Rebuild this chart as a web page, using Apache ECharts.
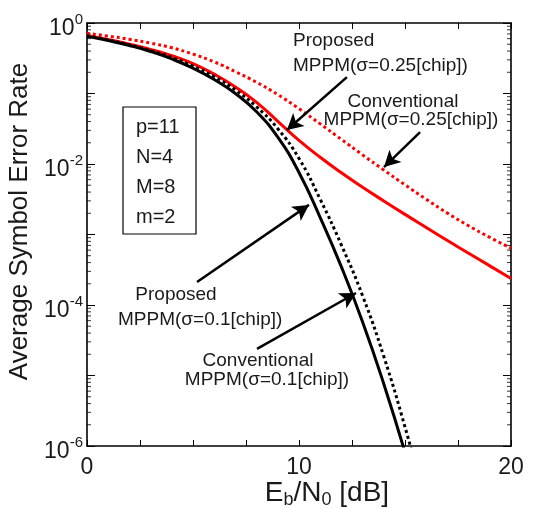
<!DOCTYPE html>
<html>
<head>
<meta charset="utf-8">
<script src="https://cdn.jsdelivr.net/npm/echarts@6/dist/echarts.min.js"></script>
<style>
html, body { margin: 0; padding: 0; background: #fff; }
#graph { width: 534px; height: 509px; }
</style>
</head>
<body>
<div id="graph"></div>
<script>
// Eb/N0 in dB
const snrDb = [0, 1, 2, 3, 4, 5, 6, 7, 8, 9, 10, 11, 12, 13, 14, 15, 16, 17, 18, 19, 20];

// sigma = 0.1 chip
const proposed01 = [0.646, 0.562, 0.479, 0.394, 0.309, 0.229, 0.158, 0.1, 0.055, 0.024, 7.59e-3, 1.74e-3, 3.47e-4, 5.75e-5, 7.59e-6, 8.1e-7];
const conventional01 = [0.661, 0.575, 0.49, 0.407, 0.324, 0.245, 0.174, 0.112, 0.0646, 0.0316, 0.012, 3.16e-3, 7.08e-4, 1.35e-4, 1.86e-5, 1.86e-6, 1.48e-7];

// sigma = 0.25 chip
const proposed025 = [0.661, 0.582, 0.501, 0.422, 0.343, 0.266, 0.188, 0.124, 0.075, 0.0403, 0.0216, 0.01245, 7.5e-3, 4.68e-3, 2.99e-3, 1.93e-3, 1.26e-3, 8.22e-4, 5.43e-4, 3.59e-4, 2.37e-4];
const conventional025 = [0.714, 0.652, 0.587, 0.518, 0.446, 0.362, 0.281, 0.204, 0.144, 0.0964, 0.0608, 0.0371, 0.0223, 0.01346, 8.2e-3, 5.06e-3, 3.16e-3, 2.01e-3, 1.33e-3, 9.1e-4, 6.37e-4];

const xTicks = [0, 10, 20];
const yLabelVals = [1, 1e-2, 1e-4, 1e-6];

function pairs(vals) {
	return vals.map(function (v, i) { return [snrDb[i], v]; });
}

// minor ticks of the log axis (2..9 in every decade)
let minorVals = [];
for (let d = -6; d < 0; d++) {
	for (let m = 2; m <= 9; m++) {
		minorVals.push(m * Math.pow(10, d));
	}
}

const fontFam = '"Liberation Sans", Arial, sans-serif';
const txtColor = '#1a1a1a';

function yLabel(value) {
	let e = Math.round(Math.log10(value));
	return '{b|10}{s|' + e + '}';
}

function yAxisCfg(pos, withLabels) {
	let ax = {
		type: 'log',
		logBase: 10,
		min: 1e-6,
		max: 1,
		interval: 1,
		position: pos,
		axisLine: { show: true, onZero: false, lineStyle: { color: '#000', width: 1.6 } },
		axisTick: { show: true, inside: true, length: 8, lineStyle: { color: '#000', width: 1 } },
		axisLabel: { show: false },
		splitLine: { show: false },
		minorTick: { show: false }
	};
	if (withLabels) {
		ax.axisLabel = {
			customValues: yLabelVals,
			formatter: yLabel,
			margin: 4,
			rich: {
				b: { fontSize: 23, fontFamily: fontFam, color: txtColor, lineHeight: 30, padding: [12, 0, 0, 0] },
				s: { fontSize: 15, fontFamily: fontFam, color: txtColor, lineHeight: 15, padding: [0, 0, 6, 0] }
			}
		};
		ax.name = 'Average Symbol Error Rate';
		ax.nameLocation = 'middle';
		ax.nameGap = 50;
		ax.nameTextStyle = { fontSize: 26, fontFamily: fontFam, color: txtColor, padding: [0, 0, 0, 26] };
	}
	return ax;
}

function xAxisCfg(pos, withLabels) {
	return {
		type: 'value',
		min: 0,
		max: 20,
		interval: 2.5,
		position: pos,
		axisLine: { show: true, onZero: false, lineStyle: { color: '#000', width: 1.6 } },
		axisTick: { show: true, inside: true, length: 6, lineStyle: { color: '#000', width: 1 } },
		axisLabel: withLabels ? {
			show: true,
			customValues: xTicks,
			fontSize: 23,
			fontFamily: fontFam,
			color: txtColor,
			margin: 10
		} : { show: false },
		splitLine: { show: false }
	};
}

let xMain = xAxisCfg('bottom', true);
xMain.name = '{m|E}{u|b}{m|/N}{u|0}{m| [dB]}';
xMain.nameLocation = 'middle';
xMain.nameGap = 30;
xMain.nameMoveOverlap = false;
xMain.nameTextStyle = {
	padding: [0, 0, 0, 56],
	rich: {
		m: { fontSize: 28, fontFamily: fontFam, color: txtColor, lineHeight: 34 },
		u: { fontSize: 18, fontFamily: fontFam, color: txtColor, lineHeight: 18, padding: [14, 0, 0, 0] }
	}
};

function minorTickSeries(xPos, dx) {
	return {
		type: 'scatter',
		silent: true,
		clip: false,
		symbol: 'rect',
		symbolSize: [4, 1],
		symbolOffset: [dx, 0],
		itemStyle: { color: '#000' },
		data: minorVals.map(function (v) { return [xPos, v]; }),
		z: 1
	};
}

function arrow(from, to) {
	return [{ coord: from }, { coord: to }];
}

function annoText(x, y, text, align, size) {
	return {
		type: 'text',
		x: x,
		y: y,
		style: {
			text: text,
			fill: txtColor,
			font: (size || 19) + 'px ' + fontFam,
			textAlign: align || 'left',
			textVerticalAlign: 'middle'
		}
	};
}

var myChart = echarts.init(document.getElementById('graph'), null, { renderer: 'canvas' });

let option = {
	animation: false,
	backgroundColor: '#fff',
	grid: { left: 87, right: 23, top: 23, bottom: 63, containLabel: false, outerBoundsMode: 'none' },
	xAxis: [xMain, xAxisCfg('top', false)],
	yAxis: [yAxisCfg('left', true), yAxisCfg('right', false)],
	series: [
		{
			name: 'Conventional 0.25', type: 'line', data: pairs(conventional025), showSymbol: false, smooth: true,
			lineStyle: { color: '#ff0000', width: 3, type: [3, 3] }
		},
		{
			name: 'Proposed 0.25', type: 'line', data: pairs(proposed025), showSymbol: false, smooth: true,
			lineStyle: { color: '#ff0000', width: 3 }
		},
		{
			name: 'Conventional 0.1', type: 'line', data: pairs(conventional01), showSymbol: false, smooth: true,
			lineStyle: { color: '#000', width: 3, type: [3, 3] }
		},
		{
			name: 'Proposed 0.1', type: 'line', data: pairs(proposed01), showSymbol: false, smooth: true,
			lineStyle: { color: '#000', width: 3 }
		},
		minorTickSeries(0, 2),
		minorTickSeries(20, -2),
		{
			name: 'arrows', type: 'line', data: [], silent: true,
			markLine: {
				symbol: ['none', 'arrow'],
				symbolSize: [13, 16],
				label: { show: false },
				lineStyle: { color: '#000', width: 2.5, type: 'solid' },
				data: [
					arrow([12.26, 0.171], [9.43, 0.0303]),
					arrow([15.71, 0.0284], [14.01, 0.00906]),
					arrow([5.19, 2.12e-4], [10.47, 2.63e-3]),
					arrow([8.02, 2.38e-5], [12.69, 1.48e-4])
				]
			}
		}
	],
	graphic: [
		{
			type: 'rect',
			shape: { x: 123, y: 107, width: 73, height: 127 },
			style: { fill: '#fff', stroke: '#000', lineWidth: 1.2 }
		},
		annoText(136, 127, 'p=11', 'left', 20),
		annoText(136, 157, 'N=4', 'left', 20),
		annoText(136, 187, 'M=8', 'left', 20),
		annoText(136, 217, 'm=2', 'left', 20),
		annoText(293, 41, 'Proposed'),
		annoText(293, 66, 'MPPM(σ=0.25[chip])'),
		annoText(403, 102, 'Conventional', 'center'),
		annoText(411, 120, 'MPPM(σ=0.25[chip])', 'center'),
		annoText(176, 295, 'Proposed', 'center'),
		annoText(118, 320, 'MPPM(σ=0.1[chip])'),
		annoText(258, 361, 'Conventional', 'center'),
		annoText(267, 380, 'MPPM(σ=0.1[chip])', 'center')
	]
};

myChart.setOption(option, true);
</script>
</body>
</html>
